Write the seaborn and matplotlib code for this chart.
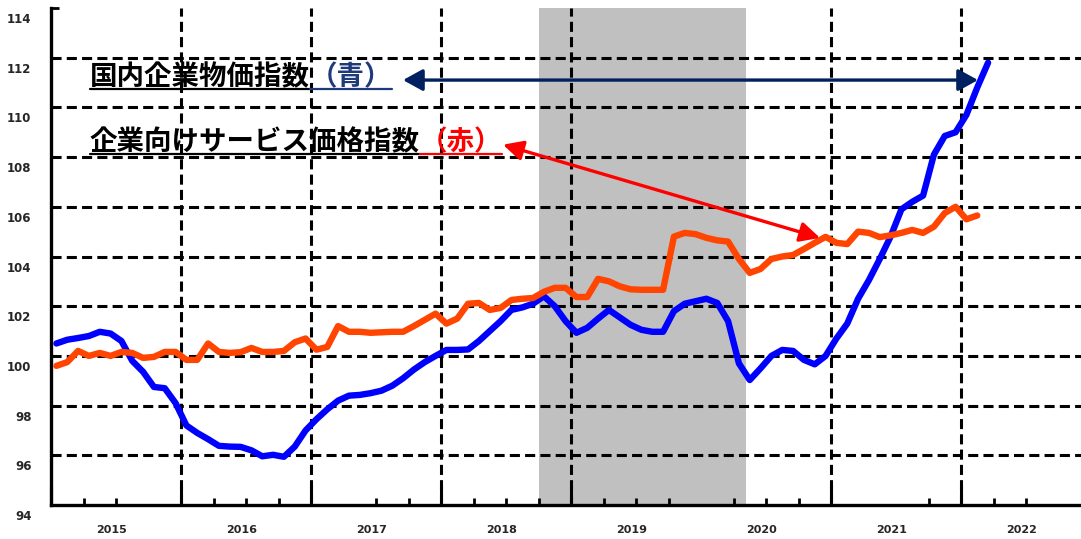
import numpy as np
import pandas as pd
import matplotlib
matplotlib.use("Agg")
import matplotlib.pyplot as plt
import matplotlib.transforms as mtransforms
from matplotlib.lines import Line2D
import seaborn as sns

# monthly series starting Jan 2015
start_year = 2015
# 国内企業物価指数 (Jan 2015 - Mar 2022)
cgpi = [100.5, 100.65, 100.72, 100.8, 100.97, 100.9, 100.6, 99.8, 99.36, 98.75, 98.7, 98.1,
        97.2, 96.9, 96.65, 96.38, 96.35, 96.34, 96.2, 95.96, 96.02, 95.94, 96.35, 97.0,
        97.45, 97.85, 98.2, 98.4, 98.43, 98.5, 98.6, 98.8, 99.1, 99.45, 99.75, 100.0,
        100.24, 100.24, 100.26, 100.6, 101.0, 101.4, 101.85, 101.95, 102.1, 102.4, 102.0, 101.4,
        100.93, 101.13, 101.5, 101.85, 101.55, 101.25, 101.05, 100.97, 100.97, 101.8, 102.1, 102.2,
        102.3, 102.13, 101.4, 99.7, 99.03, 99.5, 100.0, 100.24, 100.2, 99.84, 99.66, 100.0,
        100.7, 101.3, 102.3, 103.05, 103.9, 104.8, 105.9, 106.2, 106.45, 108.1, 108.85, 109.0,
        109.7, 110.8, 111.8]
# 企業向けサービス価格指数 (Jan 2015 - Feb 2022)
sppi = [99.6, 99.75, 100.2, 100.0, 100.12, 100.0, 100.16, 100.12, 99.92, 99.96, 100.16, 100.16,
        99.84, 99.84, 100.5, 100.16, 100.12, 100.15, 100.32, 100.16, 100.16, 100.2, 100.55, 100.7,
        100.25, 100.36, 101.2, 100.97, 100.97, 100.93, 100.95, 100.97, 100.97, 101.2, 101.45, 101.7,
        101.3, 101.5, 102.1, 102.13, 101.85, 101.93, 102.25, 102.3, 102.33, 102.58, 102.74, 102.74,
        102.37, 102.37, 103.1, 103.0, 102.8, 102.68, 102.66, 102.66, 102.66, 104.8, 104.95, 104.9,
        104.75, 104.65, 104.6, 103.9, 103.34, 103.5, 103.9, 104.0, 104.06, 104.3, 104.55, 104.79,
        104.55, 104.5, 105.0, 104.95, 104.78, 104.85, 104.95, 105.07, 104.95, 105.2, 105.75, 106.0,
        105.5, 105.65]

year_labels = ["2015", "2016", "2017", "2018", "2019", "2020", "2021", "2022"]
y_ticks = [94, 96, 98, 100, 102, 104, 106, 108, 110, 112, 114]
grid_y = [96, 98, 100, 102, 104, 106, 108, 110, 112]
grid_x = [2016, 2017, 2018, 2019, 2021, 2022]
minor_x = [2015.25, 2015.5, 2016.25, 2016.5, 2016.75, 2017.5, 2017.75, 2018.25, 2018.5,
           2018.75, 2019.25, 2019.5, 2019.75, 2020.25, 2020.5, 2020.75, 2021.75, 2022.25, 2022.5]
recession = (2018.75, 2020.35)


def month_pos(n):
    return start_year + (np.arange(n) + 0.5) / 12


df = pd.concat([
    pd.DataFrame({"t": month_pos(len(cgpi)), "value": cgpi, "series": "国内企業物価指数"}),
    pd.DataFrame({"t": month_pos(len(sppi)), "value": sppi, "series": "企業向けサービス価格指数"}),
])

sns.set_theme(style="white")
plt.rcParams['font.family'] = ['Noto Sans CJK JP', 'DejaVu Sans']

fig = plt.figure(figsize=(10.81, 5.39), dpi=100)
ax = fig.add_axes([51 / 1081, 34 / 539, 1030 / 1081, 497 / 539])

ax.axvspan(*recession, color="#C0C0C0", lw=0, zorder=0)
dash = (0, (3.3, 1.7))
for v in grid_y:
    ax.axhline(v, color="black", lw=2.2, ls=dash, zorder=1)
for v in grid_x:
    ax.axvline(v, color="black", lw=2.2, ls=dash, zorder=1)

sns.lineplot(data=df, x="t", y="value", hue="series",
             palette=["#0000FF", "#FF4500"], lw=4.6, legend=False, ax=ax, zorder=3)

ax.set_xlim(2015, 2015 + 1030 / 130)
ax.set_ylim(94, 114)
ax.set_xlabel("")
ax.set_ylabel("")

ax.set_xticks([2015] + grid_x)
ax.set_xticklabels([])
ax.set_xticks(minor_x, minor=True)
ax.tick_params(axis="x", which="major", direction="in", length=14, width=2.2, color="black", bottom=True)
ax.tick_params(axis="x", which="minor", direction="in", length=5, width=2, color="black", bottom=True)
ax.set_yticks(y_ticks)
ax.set_yticklabels([str(v) for v in y_ticks], fontweight="bold", fontsize=8.5, family="DejaVu Sans")
ax.tick_params(axis="y", direction="in", length=6, width=2, color="black", pad=14, left=True)
offset = mtransforms.ScaledTranslation(0, -0.1, fig.dpi_scale_trans)
for lab in ax.get_yticklabels():
    lab.set_transform(lab.get_transform() + offset)

for i, lab in enumerate(year_labels):
    ax.text(start_year + i + 0.465, -0.05, lab, transform=ax.get_xaxis_transform(),
            ha="center", va="center", fontsize=8, fontweight="bold", family="DejaVu Sans")

for s in ["top", "right"]:
    ax.spines[s].set_visible(False)
for s in ["left", "bottom"]:
    ax.spines[s].set_color("black")
    ax.spines[s].set_linewidth(2.4)

# annotations
notes = [("国内企業物価指数", "（青）", "#1F3A7A", (2015.3, 111.22)),
         ("企業向けサービス価格指数", "（赤）", "#FF0000", (2015.3, 108.6))]
pairs = []
for main, paren, col, (x, y) in notes:
    t1 = ax.text(x, y, main, fontsize=19.8, fontweight="bold", va="center", ha="left",
                 color="black", zorder=5)
    t2 = ax.annotate(paren, xy=(1, 0.5), xycoords=t1, va="center", ha="left",
                     fontsize=19.8, fontweight="bold", color=col, zorder=5)
    pairs.append((t1, t2, col))

ax.annotate("", xy=(2015 + (403 - 51) / 130, 111.1), xytext=(2015 + (978 - 51) / 130, 111.1),
            arrowprops=dict(arrowstyle="<|-|>,head_length=1.0,head_width=0.55",
                            color="#002060", lw=2.4, shrinkA=0, shrinkB=0), zorder=6)
ax.annotate("", xy=(2015 + (503 - 51) / 130, 108.5), xytext=(2015 + (820 - 51) / 130, 104.75),
            arrowprops=dict(arrowstyle="<|-|>,head_length=1.0,head_width=0.5",
                            color="#FF0000", lw=2.4, shrinkA=0, shrinkB=0), zorder=6)

fig.canvas.draw()
r = fig.canvas.get_renderer()
for t1, t2, col in pairs:
    b1 = t1.get_window_extent(r)
    b2 = t2.get_window_extent(r)
    yl = b1.y0 + 2
    fig.add_artist(Line2D([b1.x0, b1.x1], [yl, yl], transform=mtransforms.IdentityTransform(),
                          color="black", lw=1.6))
    fig.add_artist(Line2D([b2.x0, b2.x1], [yl, yl], transform=mtransforms.IdentityTransform(),
                          color=col, lw=1.6))

fig.savefig("out.png", dpi=100)
